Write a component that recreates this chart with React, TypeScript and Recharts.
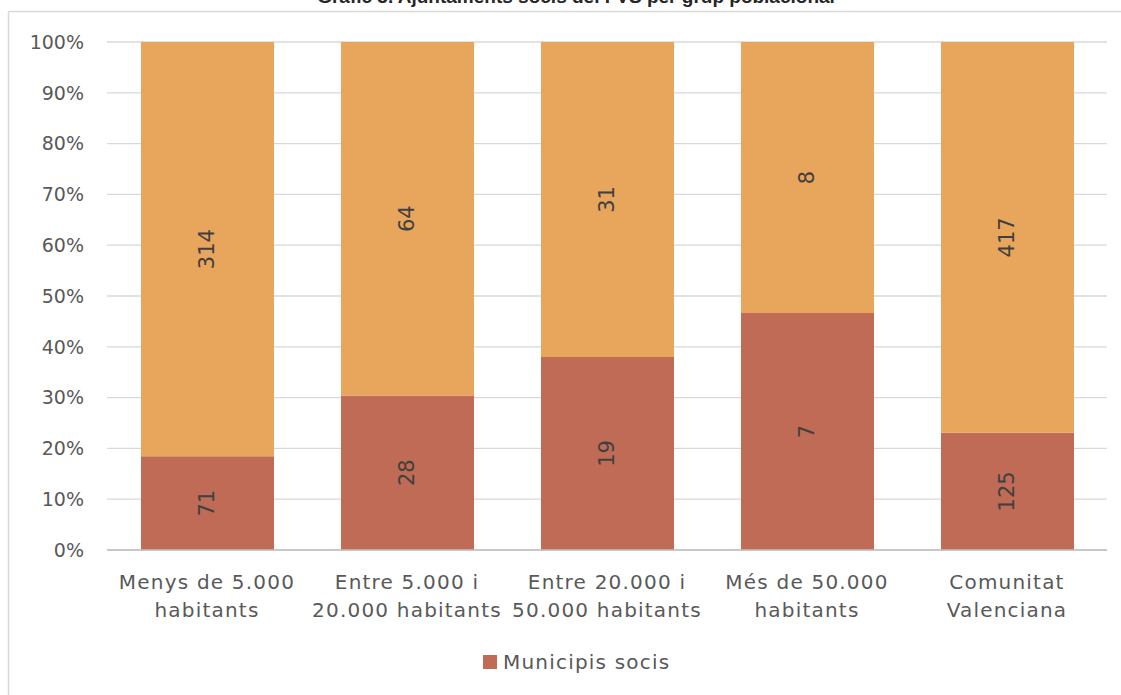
import React from "react";
import { BarChart, Bar, XAxis, YAxis, CartesianGrid, LabelList } from "recharts";

const categories = [
  "Menys de 5.000 habitants",
  "Entre 5.000 i 20.000 habitants",
  "Entre 20.000 i 50.000 habitants",
  "Més de 50.000 habitants",
  "Comunitat Valenciana",
];
const categoryLines = [
  ["Menys de 5.000", "habitants"],
  ["Entre 5.000 i", "20.000 habitants"],
  ["Entre 20.000 i", "50.000 habitants"],
  ["Més de 50.000", "habitants"],
  ["Comunitat", "Valenciana"],
];
const socis = [71, 28, 19, 7, 125];
const noSocis = [314, 64, 31, 8, 417];
const yTicks = [0, 0.1, 0.2, 0.3, 0.4, 0.5, 0.6, 0.7, 0.8, 0.9, 1];

const title = "Gràfic 3. Ajuntaments socis del FVS per grup poblacional";
const legendLabel = "Municipis socis";

const RED = "#BF6B56";
const ORANGE = "#E8A55C";
const FONT = "'DejaVu Sans', sans-serif";

const data = categories.map((c, i) => ({
  name: c,
  lines: categoryLines[i],
  socis: socis[i],
  noSocis: noSocis[i],
}));

const XTick = (props: any) => {
  const { x, y, index } = props;
  const lines = categoryLines[index] || [];
  return (
    <g>
      {lines.map((l: string, k: number) => (
        <text
          key={k}
          x={x}
          y={y + 39 + k * 28}
          textAnchor="middle"
          fill="#595959"
          fontSize={20}
          letterSpacing={1.2}
          fontFamily={FONT}
        >
          {l}
        </text>
      ))}
    </g>
  );
};

const makeLabel = (vals: number[]) => (props: any) => {
  const { x, y, width, height, index } = props;
  const cx = x + width / 2;
  const cy = y + height / 2;
  return (
    <text
      x={cx}
      y={cy}
      transform={`rotate(-90 ${cx} ${cy})`}
      textAnchor="middle"
      dominantBaseline="central"
      fill="#404040"
      fontSize={21}
      fontFamily={FONT}
    >
      {vals[index]}
    </text>
  );
};

export default function App() {
  return (
    <div
      style={{
        position: "absolute",
        left: 0,
        top: 0,
        width: 1121,
        height: 695,
        overflow: "hidden",
        background: "#fff",
      }}
    >
      <svg
        width={1121}
        height={695}
        style={{ position: "absolute", left: 0, top: 0 }}
      >
        <line x1={8.5} y1={11.5} x2={1121} y2={11.5} stroke="#D9D9D9" strokeWidth={1.5} />
        <line x1={8.5} y1={11.5} x2={8.5} y2={695} stroke="#D9D9D9" strokeWidth={1.5} />
        <text
          x={576}
          y={3}
          textAnchor="middle"
          fontFamily="'Liberation Sans', Arial, sans-serif"
          fontWeight="bold"
          fontSize={19}
          fill="#262626"
        >
          {title}
        </text>
      </svg>
      <div style={{ position: "absolute", left: 0, top: 0 }}>
        <BarChart
          width={1121}
          height={695}
          data={data}
          stackOffset="expand"
          margin={{ top: 42, right: 14, bottom: 0, left: 0 }}
          barSize={133}
        >
          <CartesianGrid vertical={false} stroke="#D9D9D9" strokeWidth={1.3} />
          <YAxis
            width={107}
            ticks={yTicks}
            domain={[0, 1]}
            tickFormatter={(v: number) => `${Math.round(v * 100)}%`}
            axisLine={false}
            tickLine={false}
            tickSize={0}
            tickMargin={23}
            tick={{ fill: "#595959", fontSize: 19, fontFamily: FONT }}
          />
          <XAxis
            dataKey="name"
            height={145}
            interval={0}
            axisLine={{ stroke: "#BFBFBF", strokeWidth: 1.5 }}
            tickLine={false}
            tickSize={0}
            tickMargin={0}
            tick={<XTick />}
          />
          <Bar dataKey="socis" stackId="a" fill={RED} isAnimationActive={false}>
            <LabelList dataKey="socis" content={makeLabel(socis)} />
          </Bar>
          <Bar dataKey="noSocis" stackId="a" fill={ORANGE} isAnimationActive={false}>
            <LabelList dataKey="noSocis" content={makeLabel(noSocis)} />
          </Bar>
        </BarChart>
      </div>
      <div
        style={{
          position: "absolute",
          left: 483,
          top: 650,
          display: "flex",
          alignItems: "center",
          fontFamily: FONT,
          fontSize: 20,
          letterSpacing: 1.2,
          color: "#595959",
          whiteSpace: "nowrap",
        }}
      >
        <span
          style={{
            display: "inline-block",
            width: 14,
            height: 14,
            background: RED,
            marginRight: 6,
          }}
        />
        <span>{legendLabel}</span>
      </div>
    </div>
  );
}
